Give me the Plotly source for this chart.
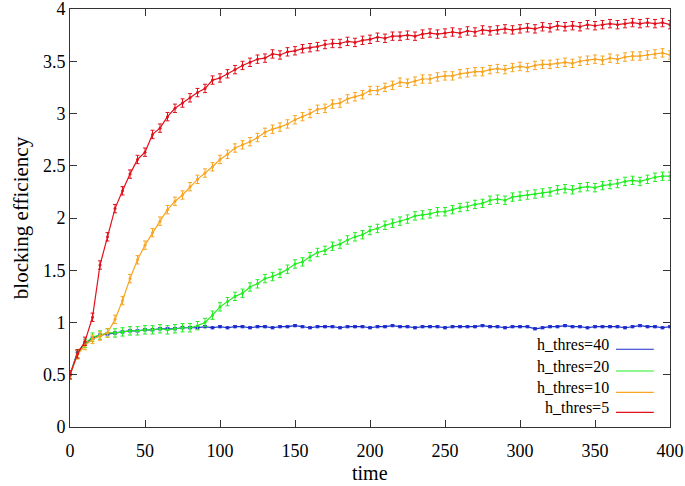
import plotly.graph_objects as go

# time axis (every 5 steps)
time = list(range(0, 405, 5))

# blocking efficiency for each threshold
h40 = [0.50, 0.72, 0.80, 0.85, 0.88, 0.89, 0.90, 0.91, 0.92, 0.92,
       0.93, 0.93, 0.94, 0.94, 0.94, 0.95, 0.95, 0.95, 0.96, 0.95,
       0.96, 0.95, 0.96, 0.96, 0.95, 0.96, 0.96, 0.95, 0.96, 0.96,
       0.97, 0.96, 0.95, 0.96, 0.96, 0.96, 0.95, 0.96, 0.96, 0.96,
       0.95, 0.96, 0.96, 0.97, 0.96, 0.96, 0.95, 0.96, 0.96, 0.96,
       0.95, 0.96, 0.96, 0.96, 0.96, 0.97, 0.96, 0.96, 0.95, 0.96,
       0.96, 0.96, 0.94, 0.95, 0.96, 0.96, 0.97, 0.96, 0.96, 0.95,
       0.96, 0.96, 0.96, 0.96, 0.95, 0.96, 0.97, 0.96, 0.96, 0.95,
       0.96]
h20 = [0.50, 0.70, 0.80, 0.86, 0.88, 0.90, 0.90, 0.91, 0.92, 0.92,
       0.93, 0.93, 0.94, 0.93, 0.94, 0.95, 0.95, 0.97, 1.00, 1.07,
       1.15, 1.20, 1.25, 1.28, 1.34, 1.37, 1.42, 1.44, 1.47, 1.51,
       1.56, 1.58, 1.63, 1.67, 1.69, 1.73, 1.75, 1.79, 1.82, 1.84,
       1.88, 1.90, 1.93, 1.95, 1.97, 1.99, 2.02, 2.03, 2.04, 2.06,
       2.06, 2.08, 2.10, 2.11, 2.13, 2.14, 2.17, 2.18, 2.17, 2.20,
       2.21, 2.22, 2.23, 2.24, 2.25, 2.27, 2.28, 2.27, 2.29, 2.30,
       2.29, 2.31, 2.32, 2.33, 2.35, 2.36, 2.35, 2.37, 2.39, 2.40,
       2.40]
h10 = [0.50, 0.69, 0.78, 0.84, 0.87, 0.90, 1.03, 1.21, 1.42, 1.60,
       1.74, 1.86, 1.97, 2.08, 2.16, 2.22, 2.30, 2.37, 2.43, 2.49,
       2.56, 2.61, 2.67, 2.70, 2.73, 2.77, 2.82, 2.85, 2.87, 2.90,
       2.94, 2.97, 3.00, 3.04, 3.05, 3.09, 3.10, 3.14, 3.16, 3.18,
       3.22, 3.22, 3.25, 3.27, 3.30, 3.29, 3.31, 3.33, 3.33, 3.35,
       3.36, 3.36, 3.38, 3.39, 3.40, 3.40, 3.42, 3.43, 3.42, 3.44,
       3.45, 3.44, 3.46, 3.47, 3.47, 3.48, 3.49, 3.48, 3.50, 3.51,
       3.52, 3.51, 3.53, 3.52, 3.54, 3.55, 3.55, 3.56, 3.57, 3.58,
       3.56]
h5 = [0.50, 0.70, 0.82, 1.05, 1.55, 1.82, 2.09, 2.26, 2.42, 2.56,
      2.63, 2.80, 2.86, 2.97, 3.05, 3.10, 3.15, 3.20, 3.24, 3.32,
      3.34, 3.38, 3.42, 3.46, 3.49, 3.52, 3.53, 3.57, 3.56, 3.59,
      3.60, 3.62, 3.63, 3.64, 3.66, 3.67, 3.67, 3.69, 3.68, 3.70,
      3.71, 3.73, 3.72, 3.74, 3.74, 3.75, 3.74, 3.76, 3.77, 3.76,
      3.77, 3.78, 3.77, 3.79, 3.78, 3.80, 3.79, 3.80, 3.81, 3.80,
      3.81, 3.82, 3.81, 3.83, 3.82, 3.84, 3.83, 3.84, 3.83, 3.85,
      3.84, 3.85, 3.86, 3.85, 3.86, 3.87, 3.86, 3.87, 3.86, 3.87,
      3.85]

labels = ['h_thres=40', 'h_thres=20', 'h_thres=10', 'h_thres=5']
errors = [0.01, 0.04, 0.04, 0.04]
colors = ['#1a2ccc', '#22ee22', '#f8a521', '#e3101c']

FONT = 'Liberation Serif, DejaVu Serif, serif'

fig = go.Figure()
for ys, name, err, col in zip([h40, h20, h10, h5], labels, errors, colors):
    fig.add_trace(go.Scatter(
        x=time, y=ys, name=name,
        mode='lines+markers',
        line=dict(color=col, width=1.2),
        marker=dict(color=col, size=3),
        error_y=dict(type='constant', value=err, color=col,
                     thickness=1, width=2),
        showlegend=False,
    ))

# gnuplot style key: text right aligned, sample line to the right
key_y = [0.186, 0.134, 0.083, 0.035]
for i, (name, col) in enumerate(zip(labels, colors)):
    fig.add_annotation(x=0.902, y=key_y[i], xref='paper', yref='paper',
                       text=name, showarrow=False, xanchor='right',
                       yshift=-6,
                       font=dict(family=FONT, size=16, color='black'))
    fig.add_shape(type='line', xref='paper', yref='paper',
                  x0=0.91, x1=0.973, y0=key_y[i], y1=key_y[i],
                  line=dict(color=col, width=1.2))

# x axis title, placed like the gnuplot label
fig.add_annotation(x=0.5, y=-0.11, xref='paper', yref='paper',
                   text='time', showarrow=False, yanchor='middle',
                   font=dict(family=FONT, size=20, color='black'))

axis_common = dict(
    showgrid=False, zeroline=False, automargin=False,
    showline=True, linecolor='#333', linewidth=1, mirror='ticks',
    ticks='inside', ticklen=7, tickcolor='#333',
    ticklabeloverflow='allow',
    tickfont=dict(family=FONT, size=18, color='black'),
)

fig.update_layout(
    width=685, height=486,
    margin=dict(l=70, r=15, t=9, b=59),
    paper_bgcolor='white', plot_bgcolor='white',
    xaxis=dict(range=[0, 400], dtick=50, ticklabelstandoff=7, **axis_common),
    yaxis=dict(range=[0, 4], dtick=0.5,
               title=dict(text='blocking efficiency',
                          font=dict(family=FONT, size=21, color='black'),
                          standoff=8),
               **axis_common),
)

# drop the default page margin so the figure sits at the window corner
fig.write_html("out.html", config={'displayModeBar': False},
               post_script="document.body.style.margin='0';")
